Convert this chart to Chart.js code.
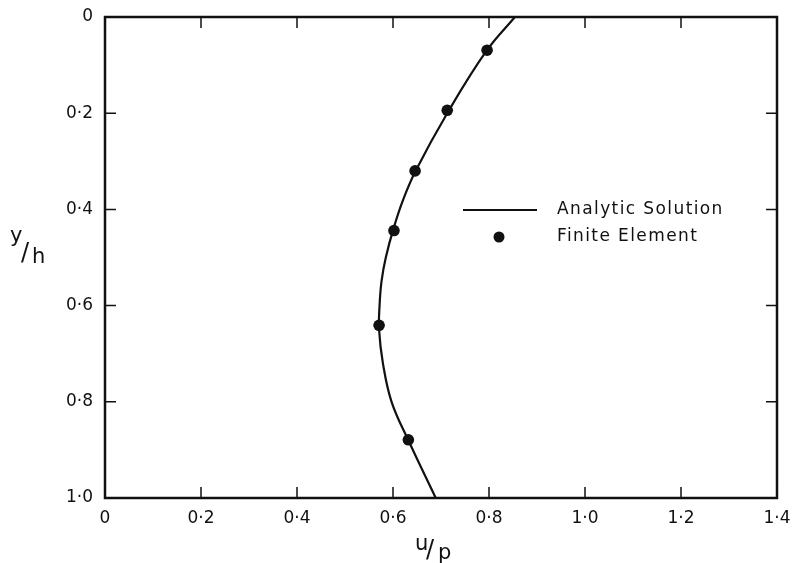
<!DOCTYPE html>
<html>
<head>
<meta charset="utf-8">
<script src="https://cdn.jsdelivr.net/npm/chart.js@4"></script>
<style>
  html, body { margin: 0; padding: 0; background: #fff; }
  #wrap { width: 793px; height: 563px; }
</style>
</head>
<body>
<div id="wrap"><canvas id="chart"></canvas></div>
<script>
// analytic solution (u/p against y/h)
const curveY = [0, 0.07, 0.2, 0.32, 0.38, 0.44, 0.5, 0.55, 0.6, 0.65, 0.72, 0.8, 0.88, 1.0];
const curveU = [0.854, 0.795, 0.713, 0.647, 0.621, 0.601, 0.585, 0.576, 0.572, 0.571, 0.579, 0.597, 0.632, 0.689];

// finite element points
const feY = [0.069, 0.194, 0.320, 0.444, 0.641, 0.879];
const feU = [0.796, 0.713, 0.646, 0.602, 0.571, 0.632];

const xTickLabels = ['0', '0·2', '0·4', '0·6', '0·8', '1·0', '1·2', '1·4'];
const yTickLabels = ['0', '0·2', '0·4', '0·6', '0·8', '1·0'];

const FONT = '"DejaVu Sans", sans-serif';
const INK = '#111';

const extras = {
  id: 'extras',
  afterDraw(chart) {
    const { ctx, chartArea: a, scales: { x, y } } = chart;
    ctx.save();
    ctx.strokeStyle = INK;
    ctx.fillStyle = INK;

    // frame
    ctx.lineWidth = 2.5;
    ctx.strokeRect(a.left, a.top, a.right - a.left, a.bottom - a.top);

    // inward ticks on all four sides
    ctx.lineWidth = 1.5;
    ctx.beginPath();
    x.ticks.forEach(t => {
      const px = x.getPixelForValue(t.value);
      ctx.moveTo(px, a.bottom); ctx.lineTo(px, a.bottom - 11);
      ctx.moveTo(px, a.top); ctx.lineTo(px, a.top + 11);
    });
    y.ticks.forEach(t => {
      const py = y.getPixelForValue(t.value);
      ctx.moveTo(a.left, py); ctx.lineTo(a.left + 11, py);
      ctx.moveTo(a.right, py); ctx.lineTo(a.right - 11, py);
    });
    ctx.stroke();

    // legend
    const ds = chart.data.datasets;
    ctx.lineWidth = 2.2;
    ctx.beginPath();
    ctx.moveTo(463, 210); ctx.lineTo(537, 210);
    ctx.stroke();
    ctx.beginPath();
    ctx.arc(499, 237, 5.5, 0, Math.PI * 2);
    ctx.fill();
    ctx.font = '17px ' + FONT;
    ctx.letterSpacing = '1.4px';
    ctx.textBaseline = 'middle';
    ctx.textAlign = 'left';
    ctx.fillText(ds[0].label, 557, 210);
    ctx.fillText(ds[1].label, 557, 237);
    ctx.letterSpacing = '0px';

    // axis titles drawn as small fractions
    ctx.textBaseline = 'alphabetic';
    ctx.font = '21px ' + FONT;
    ctx.fillText('y', 10, 242);
    ctx.fillText('h', 32, 263);
    ctx.fillText('u', 415, 550);
    ctx.fillText('p', 438, 559);
    ctx.font = '24px ' + FONT;
    ctx.fillText('/', 21, 260);
    ctx.fillText('/', 426, 557);
    ctx.restore();
  }
};

new Chart(document.getElementById('chart'), {
  type: 'scatter',
  data: {
    datasets: [
      {
        label: 'Analytic Solution',
        data: curveY.map((v, i) => ({ x: curveU[i], y: v })),
        showLine: true,
        borderColor: INK,
        borderWidth: 2.2,
        pointRadius: 0,
        tension: 0.4
      },
      {
        label: 'Finite Element',
        data: feY.map((v, i) => ({ x: feU[i], y: v })),
        backgroundColor: INK,
        borderColor: INK,
        pointRadius: 5.8,
        borderWidth: 0
      }
    ]
  },
  options: {
    responsive: true,
    maintainAspectRatio: false,
    animation: false,
    layout: { padding: { top: 17, right: 16, left: 0, bottom: 0 } },
    plugins: {
      legend: { display: false },
      tooltip: { enabled: false }
    },
    scales: {
      x: {
        type: 'linear',
        min: 0,
        max: 1.4,
        border: { display: false },
        grid: { display: false, drawTicks: false },
        ticks: {
          stepSize: 0.2,
          padding: 10,
          color: INK,
          font: { family: FONT, size: 17 },
          callback: v => xTickLabels[Math.round(v / 0.2)]
        },
        afterFit(scale) {
          scale.height = 65;
          scale.paddingLeft = 0;
          scale.paddingRight = 0;
        }
      },
      y: {
        type: 'linear',
        reverse: true,
        min: 0,
        max: 1,
        border: { display: false },
        grid: { display: false, drawTicks: false },
        ticks: {
          stepSize: 0.2,
          padding: 12,
          color: INK,
          font: { family: FONT, size: 17 },
          callback: v => yTickLabels[Math.round(v / 0.2)]
        },
        afterFit(scale) {
          scale.width = 105;
          scale.paddingTop = 0;
          scale.paddingBottom = 0;
        }
      }
    }
  },
  plugins: [extras]
});
</script>
</body>
</html>
